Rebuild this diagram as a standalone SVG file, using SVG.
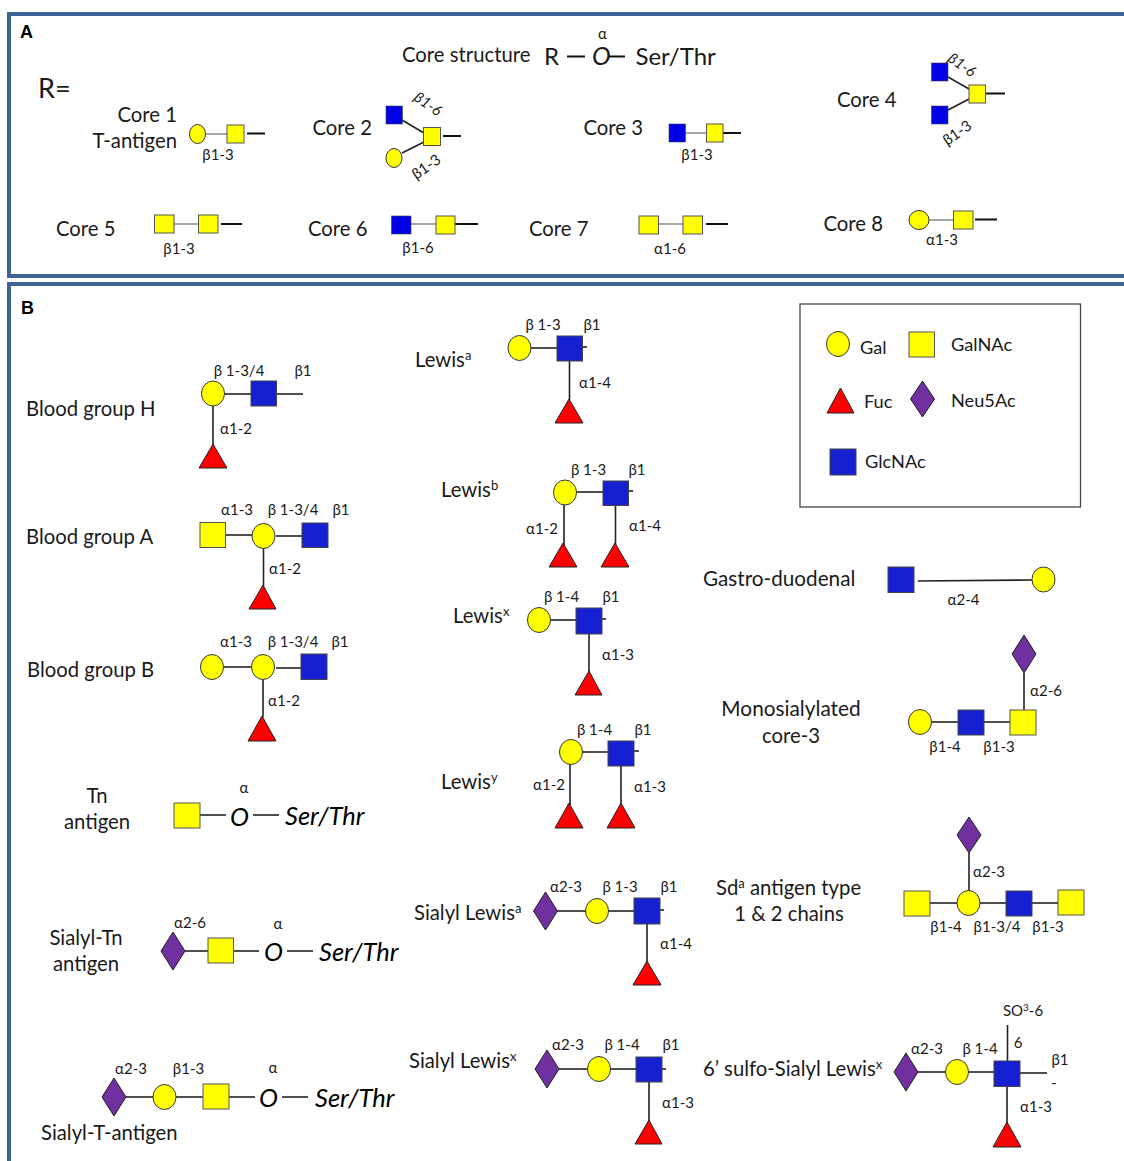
<svg xmlns="http://www.w3.org/2000/svg" width="1124" height="1161" viewBox="0 0 1124 1161">
<style>
text{font-family:"Lato","Carlito","Open Sans",sans-serif;fill:#1a1a1a}
.t{font-size:20.300px}
.k18{font-size:18.200px}
.l{font-size:15px}
.m{text-anchor:middle}
.e{text-anchor:end}
.h{font-family:"Liberation Sans",Arial,sans-serif;font-size:18px;font-weight:bold;fill:#000}
.i{font-style:italic;font-size:25.500px;fill:#000}
.frame{fill:none;stroke:#3c6496;stroke-width:4}
.gal{fill:#ffff00;stroke:#333}
.gn{fill:#ffff00;stroke:#555}
.glc{fill:#1420d2;stroke:#444}
.glca{fill:#0000e6;stroke:#444;stroke-width:.6}
.fuc{fill:#ff0000;stroke:#222}
.neu{fill:#7030a0;stroke:#222}
#connectors line{stroke:#222;stroke-width:1.6}
#connectors line.g{stroke:#777;stroke-width:1.3}
#connectors line.k{stroke:#111;stroke-width:2}
</style>
<rect width="1124" height="1161" fill="#fff"/>
<g id="frames">
<path class="frame" d="M1124 14H9V276H1124"/>
<path class="frame" d="M1124 284H9V1161"/>
<rect x="800" y="304" width="280.500" height="203" fill="none" stroke="#444" stroke-width="1.300"/>
</g>
<g id="connectors">
<line class="k" x1="567" y1="56.500" x2="585" y2="56.500"/><line class="k" x1="608" y1="56.500" x2="625" y2="56.500"/>
<line class="g" x1="205" y1="134" x2="227" y2="134"/><line class="k" x1="247" y1="133.500" x2="265" y2="133.500"/>
<line x1="402" y1="120" x2="424" y2="133"/><line x1="402" y1="153" x2="424" y2="142"/><line class="k" x1="443" y1="136" x2="461" y2="136"/>
<line class="g" x1="685" y1="133" x2="706" y2="133"/><line class="k" x1="723" y1="133" x2="741" y2="133"/>
<line x1="948" y1="77" x2="969" y2="89"/><line x1="948" y1="110" x2="969" y2="99"/><line class="k" x1="986" y1="93.500" x2="1005" y2="93.500"/>
<line class="g" x1="174" y1="224" x2="198" y2="224"/><line class="k" x1="221" y1="224" x2="242" y2="224"/>
<line class="g" x1="411" y1="224" x2="436" y2="224"/><line class="k" x1="455" y1="224" x2="478" y2="224"/>
<line class="g" x1="658" y1="224" x2="683" y2="224"/><line class="k" x1="706" y1="224" x2="728" y2="224"/>
<line class="g" x1="929" y1="220" x2="953" y2="220"/><line class="k" x1="975" y1="219.500" x2="997" y2="219.500"/>
<line x1="224" y1="394" x2="251" y2="394"/><line x1="276" y1="394" x2="303" y2="394"/><line x1="213" y1="406" x2="213" y2="445"/>
<line x1="225" y1="535" x2="252" y2="535"/><line x1="276" y1="536" x2="302" y2="536"/><line x1="263.500" y1="548" x2="263.500" y2="586"/>
<line x1="224" y1="667" x2="251" y2="667"/><line x1="276" y1="668" x2="301" y2="668"/><line x1="263" y1="680" x2="263" y2="717"/>
<line x1="200" y1="815" x2="226" y2="815"/><line x1="253" y1="815" x2="279" y2="815"/>
<line x1="185" y1="951" x2="208" y2="951"/><line x1="234" y1="951" x2="259" y2="951"/><line x1="287" y1="951" x2="313" y2="951"/>
<line x1="126" y1="1097" x2="153" y2="1097"/><line x1="176" y1="1097" x2="203" y2="1097"/><line x1="229" y1="1097" x2="255" y2="1097"/><line x1="282" y1="1097" x2="308" y2="1097"/>
<line x1="531" y1="348" x2="557" y2="348"/><line x1="582" y1="347" x2="587" y2="347"/><line x1="569.500" y1="361" x2="569.500" y2="400"/>
<line x1="576" y1="492" x2="603" y2="492"/><line x1="628" y1="491" x2="633" y2="491"/><line x1="564" y1="504" x2="564" y2="545"/><line x1="615.500" y1="505" x2="615.500" y2="545"/>
<line x1="550" y1="620" x2="576" y2="620"/><line x1="602" y1="619" x2="606" y2="619"/><line x1="589" y1="634" x2="589" y2="672"/>
<line x1="582" y1="752" x2="608" y2="752"/><line x1="634" y1="751" x2="639" y2="751"/><line x1="570" y1="764" x2="570" y2="805"/><line x1="621" y1="766" x2="621" y2="805"/>
<line x1="557" y1="911" x2="586" y2="911"/><line x1="608" y1="911" x2="634" y2="911"/><line x1="660" y1="910" x2="664" y2="910"/><line x1="647" y1="924" x2="647" y2="962"/>
<line x1="559" y1="1069" x2="588" y2="1069"/><line x1="610" y1="1069" x2="636" y2="1069"/><line x1="662" y1="1069" x2="666" y2="1069"/><line x1="649" y1="1082" x2="649" y2="1121"/>
<line x1="918" y1="581" x2="1032" y2="580"/>
<line x1="1024" y1="673" x2="1024" y2="710"/><line x1="931" y1="722" x2="958" y2="722"/><line x1="984" y1="722" x2="1010" y2="722"/>
<line x1="969" y1="853" x2="969" y2="891"/><line x1="930" y1="903" x2="957" y2="903"/><line x1="980" y1="903" x2="1006" y2="903"/><line x1="1032" y1="903" x2="1058" y2="903"/>
<line x1="918" y1="1072" x2="946" y2="1072"/><line x1="968" y1="1072" x2="994" y2="1072"/><line x1="1007.500" y1="1025" x2="1007.500" y2="1061"/><line x1="1020" y1="1073" x2="1047" y2="1073"/><line x1="1007" y1="1086" x2="1007" y2="1123"/>
</g>
<g id="panel-a">
<text class="h" x="20" y="38">A</text>
<text x="38" y="98" style="font-size:27px">R=</text>
<g id="core-structure">
<text class="t" x="402" y="62">Core structure</text>
<text x="544" y="65" style="font-size:24px">R</text>
<text x="592" y="65" style="font-size:25px;font-style:italic">O</text>
<text class="l m" x="602.500" y="39">α</text>
<text x="635.500" y="65" style="font-size:24px">Ser/Thr</text>
</g>
<g id="core1">
<text class="t e" x="177" y="122">Core 1</text><text class="t e" x="177" y="148">T-antigen</text>
<ellipse class="gal" cx="197.500" cy="134" rx="8" ry="9.500"/><rect class="gn" x="227" y="125" width="17" height="18"/>
<text class="l m" x="218" y="160">β1-3</text>
</g>
<g id="core2">
<text class="t" x="312.500" y="135">Core 2</text>
<rect class="glca" x="386" y="106" width="16.500" height="18"/><rect class="gn" x="423.500" y="127.500" width="17" height="18"/><ellipse class="gal" cx="394" cy="158" rx="8" ry="9.500"/>
<text class="l m" transform="translate(425 108) rotate(35)" style="font-style:italic">β1-6</text>
<text class="l m" transform="translate(429 171) rotate(-35)">β1-3</text>
</g>
<g id="core3">
<text class="t" x="583.500" y="135">Core 3</text>
<rect class="glca" x="669" y="124" width="16.500" height="18"/><rect class="gn" x="706.500" y="124" width="16.500" height="18"/>
<text class="l m" x="697" y="160">β1-3</text>
</g>
<g id="core4">
<text class="t" x="837" y="107">Core 4</text>
<rect class="glca" x="931.500" y="63" width="16.500" height="18"/><rect class="glca" x="931.500" y="106" width="16.500" height="18"/><rect class="gn" x="969" y="85" width="16.500" height="18"/>
<text class="l m" transform="translate(959 69) rotate(35)" style="font-style:italic">β1-6</text>
<text class="l m" transform="translate(960 137) rotate(-35)">β1-3</text>
</g>
<g id="core5">
<text class="t" x="56" y="236">Core 5</text>
<rect class="gn" x="154.500" y="215" width="19.500" height="18"/><rect class="gn" x="198.500" y="215" width="19.500" height="18"/>
<text class="l m" x="179" y="254">β1-3</text>
</g>
<g id="core6">
<text class="t" x="308" y="236">Core 6</text>
<rect class="glca" x="391.500" y="216" width="19.500" height="18"/><rect class="gn" x="436" y="216" width="19" height="18"/>
<text class="l m" x="418" y="253">β1-6</text>
</g>
<g id="core7">
<text class="t" x="529" y="236">Core 7</text>
<rect class="gn" x="639" y="216" width="19.500" height="18"/><rect class="gn" x="683" y="216" width="19.500" height="18"/>
<text class="l m" x="670" y="254">α1-6</text>
</g>
<g id="core8">
<text class="t" x="823.500" y="231">Core 8</text>
<ellipse class="gal" cx="919" cy="220" rx="10" ry="9.500"/><rect class="gn" x="953.500" y="211" width="19.500" height="18"/>
<text class="l m" x="942" y="245">α1-3</text>
</g>
</g>
<g id="panel-b">
<text class="h" x="21" y="314">B</text>
<g id="blood-h">
<text class="t" x="26" y="416">Blood group H</text>
<ellipse class="gal" cx="213" cy="393.500" rx="11.500" ry="12.500"/><rect class="glc" x="251" y="381" width="25.500" height="25"/><polygon class="fuc" points="213,444 199,468 227,468"/>
<text class="l m" x="239" y="376">β 1-3/4</text><text class="l m" x="303" y="376">β1</text><text class="l m" x="236" y="434">α1-2</text>
</g>
<g id="blood-a">
<text class="t" x="26" y="544">Blood group A</text>
<rect class="gn" x="200" y="522.500" width="25.500" height="25"/><ellipse class="gal" cx="263.500" cy="536" rx="11.500" ry="12.500"/><rect class="glc" x="302" y="523" width="26" height="24.500"/><polygon class="fuc" points="263,585 249,609 276,609"/>
<text class="l m" x="237" y="515">α1-3</text><text class="l m" x="293" y="515">β 1-3/4</text><text class="l m" x="341" y="515">β1</text><text class="l m" x="285" y="574">α1-2</text>
</g>
<g id="blood-b">
<text class="t" x="27" y="677">Blood group B</text>
<ellipse class="gal" cx="212" cy="667" rx="11.500" ry="12.500"/><ellipse class="gal" cx="263" cy="667" rx="11.500" ry="12.500"/><rect class="glc" x="301" y="654" width="26" height="25.500"/><polygon class="fuc" points="262,716 248,741 276,741"/>
<text class="l m" x="236" y="647">α1-3</text><text class="l m" x="293" y="647">β 1-3/4</text><text class="l m" x="340" y="647">β1</text><text class="l m" x="284" y="706">α1-2</text>
</g>
<g id="tn">
<text class="t m" x="97" y="803">Tn</text><text class="t m" x="97" y="829">antigen</text>
<rect class="gn" x="174" y="803" width="26" height="25"/>
<text class="l m" x="244" y="793">α</text><text class="i" x="230" y="826">O</text><text class="i" x="285" y="825">Ser/Thr</text>
</g>
<g id="sialyl-tn">
<text class="t m" x="86" y="945">Sialyl-Tn</text><text class="t m" x="86" y="971">antigen</text>
<polygon class="neu" points="173,932 185,951 173,970 161,951"/><rect class="gn" x="208" y="938" width="25.500" height="25"/>
<text class="l m" x="190" y="928">α2-6</text><text class="l m" x="278" y="929">α</text><text class="i" x="264" y="961">O</text><text class="i" x="319" y="961">Ser/Thr</text>
</g>
<g id="sialyl-t">
<text class="t" x="41" y="1140">Sialyl-T-antigen</text>
<polygon class="neu" points="114,1078 126,1097 114,1116 102,1097"/><ellipse class="gal" cx="164.500" cy="1097" rx="11.500" ry="12.500"/><rect class="gn" x="203" y="1084" width="26" height="25"/>
<text class="l m" x="131" y="1074">α2-3</text><text class="l m" x="188.500" y="1074">β1-3</text><text class="l m" x="273" y="1073">α</text><text class="i" x="259" y="1107">O</text><text class="i" x="315" y="1107">Ser/Thr</text>
</g>
<g id="lewis-a">
<text class="t" x="415" y="367">Lewis<tspan dy="-7" font-size="13">a</tspan></text>
<ellipse class="gal" cx="519.500" cy="348" rx="11.500" ry="12.500"/><rect class="glc" x="557" y="336" width="25.500" height="25"/><polygon class="fuc" points="569,399 555,423 583,423"/>
<text class="l m" x="543" y="330">β 1-3</text><text class="l m" x="592" y="330">β1</text><text class="l m" x="595" y="388">α1-4</text>
</g>
<g id="lewis-b">
<text class="t" x="441" y="497">Lewis<tspan dy="-7" font-size="13">b</tspan></text>
<ellipse class="gal" cx="565" cy="492.500" rx="11.500" ry="12.500"/><rect class="glc" x="603" y="481" width="25.500" height="24.500"/><polygon class="fuc" points="563,543 549,567 577,567"/><polygon class="fuc" points="615,543 601,567 629,567"/>
<text class="l m" x="588.500" y="475">β 1-3</text><text class="l m" x="637" y="475">β1</text><text class="l m" x="542" y="534">α1-2</text><text class="l m" x="645" y="531">α1-4</text>
</g>
<g id="lewis-x">
<text class="t" x="453" y="623">Lewis<tspan dy="-7" font-size="13">x</tspan></text>
<ellipse class="gal" cx="539" cy="620" rx="11.500" ry="12.500"/><rect class="glc" x="576" y="608" width="26" height="26"/><polygon class="fuc" points="589,671 575,695 602,695"/>
<text class="l m" x="561.500" y="602">β 1-4</text><text class="l m" x="611" y="602">β1</text><text class="l m" x="618" y="660">α1-3</text>
</g>
<g id="lewis-y">
<text class="t" x="441" y="789">Lewis<tspan dy="-7" font-size="13">y</tspan></text>
<ellipse class="gal" cx="571" cy="752" rx="11.500" ry="12.500"/><rect class="glc" x="608" y="741" width="26" height="25"/><polygon class="fuc" points="569,803 555,828 583,828"/><polygon class="fuc" points="621,803 607,828 635,828"/>
<text class="l m" x="594.500" y="735">β 1-4</text><text class="l m" x="643" y="735">β1</text><text class="l m" x="549" y="790">α1-2</text><text class="l m" x="650" y="792">α1-3</text>
</g>
<g id="sialyl-lewis-a">
<text class="t" x="414" y="920">Sialyl Lewis<tspan dy="-7" font-size="13">a</tspan></text>
<polygon class="neu" points="545.500,892 557.500,911 545.500,930 533.500,911"/><ellipse class="gal" cx="597" cy="911" rx="11.500" ry="12.500"/><rect class="glc" x="634" y="898" width="26" height="26"/><polygon class="fuc" points="647,961 633,985 661,985"/>
<text class="l m" x="566" y="892">α2-3</text><text class="l m" x="620" y="892">β 1-3</text><text class="l m" x="669" y="892">β1</text><text class="l m" x="676" y="949">α1-4</text>
</g>
<g id="sialyl-lewis-x">
<text class="t" x="409" y="1068">Sialyl Lewis<tspan dy="-7" font-size="13">x</tspan></text>
<polygon class="neu" points="547,1050 559,1069 547,1088 535,1069"/><ellipse class="gal" cx="599" cy="1069" rx="11.500" ry="12.500"/><rect class="glc" x="636" y="1057" width="26" height="25"/><polygon class="fuc" points="649,1120 635,1144 662,1144"/>
<text class="l m" x="568" y="1050">α2-3</text><text class="l m" x="622" y="1050">β 1-4</text><text class="l m" x="671" y="1050">β1</text><text class="l m" x="678" y="1108">α1-3</text>
</g>
<g id="legend">
<ellipse class="gal" cx="838" cy="344" rx="11.500" ry="12.500"/><text class="k18" x="860" y="354">Gal</text>
<rect class="gn" x="909" y="332" width="25.500" height="25"/><text class="k18" x="951" y="351">GalNAc</text>
<polygon class="fuc" points="840.500,388 827,413 854,413"/><text class="k18" x="864" y="408">Fuc</text>
<polygon class="neu" points="922.500,381 934.500,399 922.500,417 910.500,399"/><text class="k18" x="951" y="407">Neu5Ac</text>
<rect class="glc" x="830" y="449" width="26" height="26"/><text class="k18" x="865" y="468">GlcNAc</text>
</g>
<g id="gastro">
<text class="t" x="703" y="586" style="font-size:20.700px">Gastro-duodenal</text>
<rect class="glc" x="888" y="567" width="26" height="25.500"/><ellipse class="gal" cx="1043.500" cy="579.500" rx="11.500" ry="12.500"/>
<text class="l m" x="963.500" y="605">α2-4</text>
</g>
<g id="monosialylated">
<text class="t m" x="791" y="716" style="font-size:20.800px">Monosialylated</text><text class="t m" x="791" y="743">core-3</text>
<polygon class="neu" points="1024,635 1036,654 1024,673 1012,654"/><ellipse class="gal" cx="920" cy="722" rx="11.500" ry="12.500"/><rect class="glc" x="958" y="710" width="26" height="25"/><rect class="gn" x="1010" y="710" width="26" height="25"/>
<text class="l m" x="1046" y="696">α2-6</text><text class="l m" x="945" y="752">β1-4</text><text class="l m" x="999" y="752">β1-3</text>
</g>
<g id="sda">
<text class="t" x="716" y="895">Sd<tspan dy="-7" font-size="13">a</tspan><tspan dy="7"> antigen type</tspan></text><text class="t m" x="789" y="921">1 &amp; 2 chains</text>
<polygon class="neu" points="969,817 981,835 969,853 957,835"/><rect class="gn" x="904" y="891" width="26" height="25"/><ellipse class="gal" cx="968.500" cy="903" rx="11.500" ry="12.500"/><rect class="glc" x="1006" y="891" width="26" height="25"/><rect class="gn" x="1058" y="890" width="26" height="25"/>
<text class="l m" x="989" y="877">α2-3</text><text class="l m" x="946" y="932">β1-4</text><text class="l m" x="997" y="932">β1-3/4</text><text class="l m" x="1048" y="932">β1-3</text>
</g>
<g id="sulfo-sialyl-lewis-x">
<text class="t" x="703" y="1076">6’ sulfo-Sialyl Lewis<tspan dy="-7" font-size="13">x</tspan></text>
<polygon class="neu" points="906,1053 918,1072 906,1091 894,1072"/><ellipse class="gal" cx="957" cy="1072" rx="11.500" ry="12.500"/><rect class="glc" x="994" y="1061" width="26" height="25.500"/><polygon class="fuc" points="1007,1122 993,1147 1021,1147"/>
<text class="l m" x="1023" y="1016">SO<tspan dy="-5" font-size="10">3</tspan><tspan dy="5">-6</tspan></text><text class="l m" x="1018" y="1048">6</text><text class="l m" x="980" y="1054">β 1-4</text><text class="l m" x="927" y="1054">α2-3</text><text class="l m" x="1060" y="1065">β1</text><text class="l m" x="1054" y="1088">-</text><text class="l m" x="1036" y="1112">α1-3</text>
</g>
</g>
</svg>
